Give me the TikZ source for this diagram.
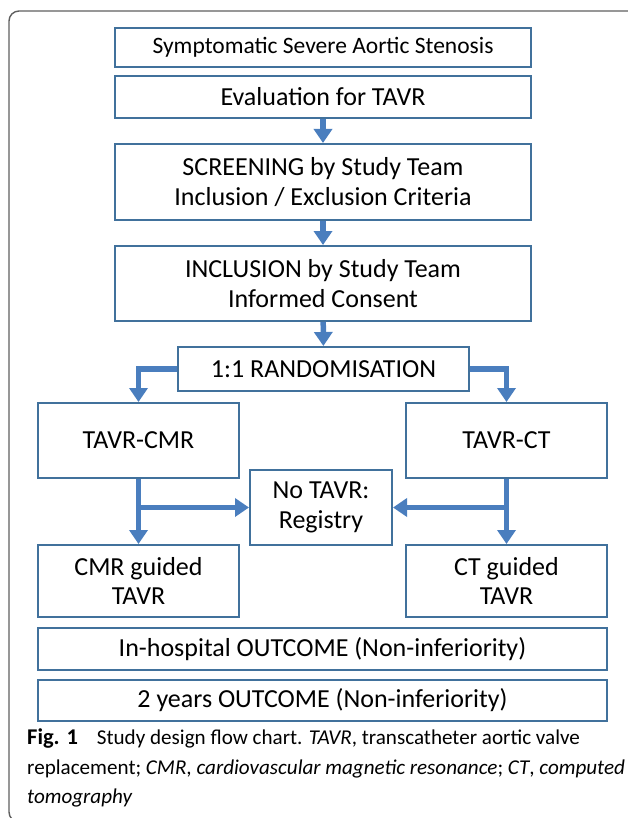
\documentclass[tikz,border=0pt]{standalone}
\usepackage{fontspec}
\setmainfont{Carlito}
\usetikzlibrary{arrows.meta, positioning}
\definecolor{boxblue}{RGB}{65, 113, 156}
\definecolor{flowblue}{RGB}{74, 126, 190}
\definecolor{framegray}{RGB}{95, 95, 95}

\begin{document}
\begin{tikzpicture}[
    x=1pt, y=-1pt,
    stepbox/.style={draw=boxblue, line width=2pt, inner sep=0pt, align=center,
        font=\fontsize{26}{29.5}\selectfont},
    widebox/.style={stepbox, minimum width=416pt},
    sidebox/.style={stepbox, minimum width=201pt},
    flow/.style={draw=flowblue, line width=5.5pt, -{Triangle[width=18pt, length=14pt]}},
    captext/.style={anchor=base west, inner sep=0pt, font=\fontsize{21.1}{25}\selectfont}
  ]

  \useasboundingbox (0,0) rectangle (627,818);

  % outer frame of the figure
  \draw[framegray, line width=1.4pt, rounded corners=10pt] (640,11) -- (9,11) -- (9,822) -- (40,822);

  % main column
  \node[widebox, minimum height=39pt, font=\fontsize{23.5}{27}\selectfont] (sympt) at (323,47.5) {Symptomatic Severe Aortic Stenosis};
  \node[widebox, minimum height=42pt] (eval) at (323,97) {Evaluation for TAVR};
  \node[widebox, minimum height=76pt] (screen) at (323,182) {SCREENING by Study Team\\Inclusion / Exclusion Criteria};
  \node[widebox, minimum height=75pt] (incl) at (323,283.5) {INCLUSION by Study Team\\Informed Consent};
  \node[stepbox, minimum width=291pt, minimum height=44pt] (rand) at (323.5,369) {1:1 RANDOMISATION};

  % the two arms
  \node[sidebox, minimum height=75pt] (tcmr) at (138.5,440.5) {TAVR-CMR};
  \node[sidebox, minimum height=75pt] (tct) at (506.5,440.5) {TAVR-CT};
  \node[stepbox, minimum width=142pt, minimum height=75pt] (reg) at (321,507.5) {No TAVR:\\Registry};
  \node[sidebox, minimum height=72pt] (gcmr) at (138.5,581) {CMR guided\\TAVR};
  \node[sidebox, minimum height=72pt] (gct) at (506.5,581) {CT guided\\TAVR};

  % outcomes
  \node[stepbox, minimum width=569pt, minimum height=42pt] (hosp) at (322.5,649) {In-hospital OUTCOME (Non-inferiority)};
  \node[stepbox, minimum width=569pt, minimum height=41pt] (twoy) at (322.5,700.5) {2 years OUTCOME (Non-inferiority)};

  \draw[flow] (eval) -- (screen);
  \draw[flow] (screen) -- (incl);
  \draw[flow] (incl) -- (rand);
  \draw[flow] (rand.west) -| (tcmr.north);
  \draw[flow] (rand.east) -| (tct.north);
  \draw[flow] (tcmr) -- (gcmr);
  \draw[flow] (tct) -- (gct);
  \draw[flow] (tcmr.south |- reg.west) -- (reg.west);
  \draw[flow] (tct.south |- reg.east) -- (reg.east);

  % caption
  \node[captext] (cap1) at (27,744) {{\fontsize{22.5}{25}\selectfont\textbf{Fig. 1}}\hspace{0.9em}Study design flow chart. \textit{TAVR}, transcatheter aortic valve};
  \node[captext] (cap2) at (27,774) {replacement; \textit{CMR}, \textit{cardiovascular magnetic resonance}; \textit{CT}, \textit{computed}};
  \node[captext] (cap3) at (27,803) {\textit{tomography}};

\end{tikzpicture}
\end{document}
